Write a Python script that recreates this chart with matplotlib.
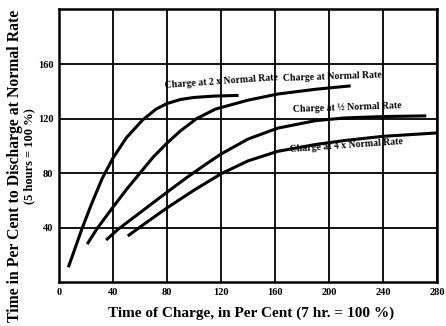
import matplotlib
matplotlib.use("Agg")
import matplotlib.pyplot as plt

# charge time (% of 7 hr) vs discharge time (% of 5 hr)
x_2x = [7, 12, 17, 24, 32, 40, 50, 62, 72, 80, 90, 100, 115, 133]
y_2x = [11, 25, 39, 57, 76, 91, 106, 119, 127, 131, 134, 135.5, 136.5, 137]

x_norm = [21, 28, 40, 50, 60, 70, 80, 90, 102, 116, 140, 162, 190, 216]
y_norm = [28, 39, 55, 68, 80, 92, 102, 111, 120, 127, 133.5, 138, 141.5, 144]

x_half = [35, 44, 60, 80, 95, 108, 120, 140, 162, 190, 212, 240, 272]
y_half = [31, 39, 51, 66, 77, 86, 94, 105, 113, 118.5, 120.5, 121.5, 122]

x_4x = [51, 65, 80, 100, 120, 140, 162, 190, 212, 240, 280]
y_4x = [34, 44, 54.5, 67.5, 79.5, 89, 96, 101, 104, 107, 109.5]

xticks = [0, 40, 80, 120, 160, 200, 240, 280]
yticks = [40, 80, 120, 160]

labels = ["Charge at 2 x Normal Rate", "Charge at Normal Rate",
          "Charge at \u00bd Normal Rate", "Charge at 4 x Normal Rate"]

serif = "Liberation Serif"

fig = plt.figure(figsize=(4.46, 3.26), dpi=100)
ax = fig.add_axes([0.132, 0.134, 0.848, 0.837])

for xs, ys in [(x_2x, y_2x), (x_norm, y_norm), (x_half, y_half), (x_4x, y_4x)]:
    ax.plot(xs, ys, color="black", lw=2.2, solid_capstyle="butt", solid_joinstyle="round")

ax.set_xlim(0, 280)
ax.set_ylim(0, 200)
ax.set_xticks(xticks)
ax.set_yticks(yticks)
ax.grid(True, color="black", lw=1.3)
ax.tick_params(length=0, pad=4)
for lab in ax.get_xticklabels() + ax.get_yticklabels():
    lab.set_fontfamily(serif)
    lab.set_fontweight("bold")
    lab.set_fontsize(7.5)
for s in ax.spines.values():
    s.set_linewidth(1.8)

# curve labels
ax.text(78, 147, labels[0], fontsize=7, family=serif, weight="bold", rotation=4,
        ha="left", va="center")
ax.text(166, 151, labels[1], fontsize=7, family=serif, weight="bold", rotation=2,
        ha="left", va="center")
ax.text(173, 128, labels[2], fontsize=7, family=serif, weight="bold", rotation=2,
        ha="left", va="center")
ax.text(171, 100, labels[3], fontsize=7, family=serif, weight="bold", rotation=4,
        ha="left", va="center")

fig.text(0.563, 0.04, "Time of Charge, in Per Cent (7 hr. = 100 %)", ha="center", va="center",
         fontsize=11, family=serif, weight="bold")
fig.text(0.034, 0.49, "Time in Per Cent to Discharge at Normal Rate", ha="center", va="center",
         rotation=90, fontsize=11.3, family=serif, weight="bold")
fig.text(0.066, 0.52, "(5 hours = 100 %)", ha="center", va="center",
         rotation=90, fontsize=9, family=serif, weight="bold")

fig.savefig("out.png", dpi=100)
